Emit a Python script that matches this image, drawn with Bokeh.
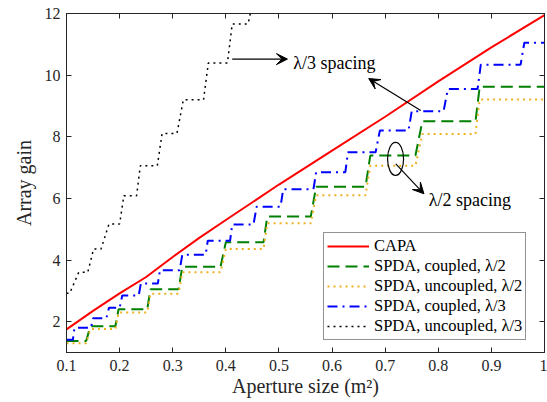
from bokeh.plotting import figure
from bokeh.models import LinearAxis, FixedTicker, Arrow, VeeHead, Range1d
from bokeh.embed import file_html
from bokeh.resources import INLINE
from bokeh.core.properties import value

# ---------------- data ----------------
capa_x = [0.1, 0.15, 0.2, 0.25, 0.3, 0.35, 0.4, 0.5, 0.6, 0.7, 0.8, 0.9, 1.0]
capa_y = [1.75, 2.35, 2.92, 3.45, 4.1, 4.72, 5.3, 6.45, 7.55, 8.65, 9.8, 10.9, 11.95]

# lambda/2 arrays: aperture interval of each element-count level
lam2_start = [0.100, 0.145, 0.198, 0.258, 0.318, 0.400, 0.478, 0.570, 0.672, 0.770, 0.878]
lam2_end = [0.137, 0.192, 0.252, 0.311, 0.390, 0.471, 0.560, 0.663, 0.757, 0.870, 1.000]
coupled_l2 = [1.37, 1.85, 2.40, 3.05, 3.78, 4.58, 5.41, 6.38, 7.39, 8.50, 9.62]
uncoupled_l2 = [1.30, 1.76, 2.30, 2.91, 3.60, 4.36, 5.19, 6.10, 7.06, 8.09, 9.21]

# lambda/3 arrays
lam3_start = [0.100, 0.115, 0.150, 0.180, 0.205, 0.240, 0.276, 0.318, 0.366, 0.412,
              0.458, 0.508, 0.570, 0.630, 0.690, 0.750, 0.818, 0.880, 0.962]
lam3_end = [0.112, 0.146, 0.175, 0.200, 0.236, 0.272, 0.313, 0.362, 0.408, 0.452,
            0.503, 0.565, 0.625, 0.682, 0.744, 0.810, 0.874, 0.955, 1.000]
coupled_l3 = [1.41, 1.80, 2.11, 2.45, 2.85, 3.24, 3.67, 4.17, 4.63, 5.15,
              5.73, 6.30, 6.85, 7.50, 8.20, 8.83, 9.55, 10.34, 11.05]
unc3_start = [0.100, 0.123, 0.151, 0.180, 0.208, 0.239, 0.280, 0.320, 0.367, 0.412, 0.458]
unc3_end = [0.106, 0.140, 0.165, 0.200, 0.232, 0.271, 0.308, 0.358, 0.403, 0.442, 0.503]
uncoupled_l3 = [2.92, 3.60, 4.36, 5.17, 6.09, 7.06, 8.11, 9.20, 10.39, 11.66, 13.0]

x_ticks = [0.1, 0.2, 0.3, 0.4, 0.5, 0.6, 0.7, 0.8, 0.9, 1.0]
x_tick_labels = ["0.1", "0.2", "0.3", "0.4", "0.5", "0.6", "0.7", "0.8", "0.9", "1"]
y_ticks = [2, 4, 6, 8, 10, 12]
y_tick_labels = ["2", "4", "6", "8", "10", "12"]

# annotations
arrow1 = (0.412, 10.52, 0.516, 10.52)
arrow2 = (0.767, 8.85, 0.669, 9.89)
arrow3 = (0.720, 7.12, 0.773, 6.15)
ellipse_xy = (0.7196, 7.28)
label_x = [0.527, 0.782]
label_y = [10.40, 5.95]
label_text = ["λ/3 spacing", "λ/2 spacing"]

FONT = "Liberation Serif"
AX = "#262626"


def stairs(starts, ends, levels):
    xs, ys = [], []
    for s, e, v in zip(starts, ends, levels):
        xs += [s, e]
        ys += [v, v]
    return xs, ys


p = figure(width=547, height=402, x_range=Range1d(0.1, 1.0), y_range=Range1d(1, 12),
           output_backend="svg", toolbar_location=None,
           min_border_left=66, min_border_right=3, min_border_top=13, min_border_bottom=50)
p.background_fill_color = "white"
p.border_fill_color = "white"
p.outline_line_color = AX
p.grid.visible = False

p.line(capa_x, capa_y, line_color="#ff0000", line_width=2, legend_label="CAPA")
gx, gy = stairs(lam2_start, lam2_end, coupled_l2)
p.line(gx, gy, line_color="#008000", line_width=2, line_dash="12 6",
       legend_label="SPDA, coupled, λ/2")
ox, oy = stairs(lam2_start, lam2_end, uncoupled_l2)
p.line(ox, oy, line_color="#EDB120", line_width=2, line_dash="2 4",
       legend_label="SPDA, uncoupled, λ/2")
bx, by = stairs(lam3_start, lam3_end, coupled_l3)
p.line(bx, by, line_color="#0000ff", line_width=2, line_dash="10 5 2 5",
       legend_label="SPDA, coupled, λ/3")
kx, ky = stairs(unc3_start, unc3_end, uncoupled_l3)
p.line(kx, ky, line_color="black", line_width=1.5, line_dash="2 4",
       legend_label="SPDA, uncoupled, λ/3")

# annotations
for a in (arrow1, arrow2, arrow3):
    p.add_layout(Arrow(x_start=a[0], y_start=a[1], x_end=a[2], y_end=a[3],
                       line_color="black", line_width=1.2,
                       end=VeeHead(size=11, fill_color="black", line_color="black")))
p.ellipse(x=[ellipse_xy[0]], y=[ellipse_xy[1]], width=16, height=33,
          width_units="screen", height_units="screen",
          fill_color=None, line_color="black", line_width=1.2)
p.text(x=label_x, y=label_y, text=label_text, text_font=value(FONT),
       text_font_size="18px", text_baseline="middle", text_align="left", text_color="black")

# axes
xa = p.xaxis[0]
ya = p.yaxis[0]
xa.ticker = FixedTicker(ticks=x_ticks)
xa.major_label_overrides = {t: l for t, l in zip(x_ticks, x_tick_labels)}
ya.ticker = FixedTicker(ticks=y_ticks)
ya.major_label_overrides = {t: l for t, l in zip(y_ticks, y_tick_labels)}
xa.axis_label = "Aperture size (m²)"
ya.axis_label = "Array gain"
for ax in (xa, ya):
    ax.major_tick_in = 5
    ax.major_tick_out = 0
    ax.minor_tick_line_color = None
    ax.axis_line_color = AX
    ax.major_tick_line_color = AX
    ax.major_label_text_font = FONT
    ax.major_label_text_font_size = "16px"
    ax.major_label_text_color = AX
    ax.axis_label_text_font = FONT
    ax.axis_label_text_font_size = "20px"
    ax.axis_label_text_font_style = "normal"
    ax.axis_label_text_color = AX
xa.major_label_standoff = 7
xa.axis_label_standoff = 1
ya.major_label_standoff = 6
ya.axis_label_standoff = 7

top = LinearAxis(ticker=FixedTicker(ticks=x_ticks))
right = LinearAxis(ticker=FixedTicker(ticks=y_ticks))
for ax in (top, right):
    ax.major_tick_in = 5
    ax.major_tick_out = 0
    ax.minor_tick_line_color = None
    ax.axis_line_color = AX
    ax.major_tick_line_color = AX
    ax.major_label_text_font_size = "1px"
    ax.major_label_text_color = None
    ax.major_label_standoff = 0
p.add_layout(top, "above")
p.add_layout(right, "right")

lg = p.legend[0]
lg.location = (257, 12)
lg.border_line_color = AX
lg.border_line_width = 1
lg.background_fill_color = "white"
lg.background_fill_alpha = 1
lg.label_text_font = FONT
lg.label_text_font_size = "16.5px"
lg.label_text_color = "black"
lg.glyph_width = 42
lg.glyph_height = 18
lg.label_height = 18
lg.label_standoff = 5
lg.spacing = -1
lg.padding = 3
lg.margin = 0

open("out.html", "w").write(file_html(p, INLINE))
